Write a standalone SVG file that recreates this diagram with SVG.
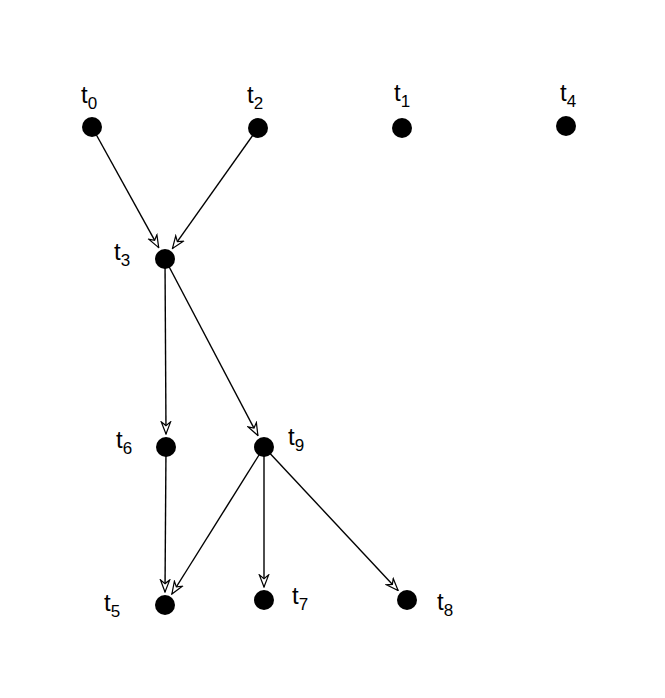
<svg xmlns="http://www.w3.org/2000/svg" width="665" height="698" viewBox="0 0 665 698">
<style>
.n{fill:#000}
.l{font-family:"Liberation Sans",Arial,sans-serif;font-size:24px;fill:#000}
.s{font-size:17px}
.e{stroke:#000;stroke-width:1.4;fill:none;marker-end:url(#a)}
</style>
<defs><marker id="a" markerUnits="userSpaceOnUse" markerWidth="14" markerHeight="12" refX="13" refY="5" orient="auto" viewBox="-1 -1 15 12"><path d="M0,0 L13,5 L0,10 L4,5 z" fill="#fff" stroke="#000" stroke-width="1.3"/></marker></defs>
<rect width="665" height="698" fill="#fff"/>
<g id="connectors">
<line class="e" x1="92" y1="127" x2="158.7" y2="247.6"/>
<line class="e" x1="258" y1="128" x2="172.5" y2="248.4"/>
<line class="e" x1="165" y1="259" x2="166" y2="434"/>
<line class="e" x1="165" y1="259" x2="257.9" y2="435.5"/>
<line class="e" x1="166" y1="447" x2="165" y2="592"/>
<line class="e" x1="264" y1="447" x2="171.9" y2="594"/>
<line class="e" x1="264" y1="447" x2="264" y2="587"/>
<line class="e" x1="264" y1="447" x2="398.1" y2="590.5"/>
</g>
<g id="t0"><circle class="n" cx="92" cy="127" r="10"/><text class="l" x="81" y="103">t<tspan class="s" dy="6">0</tspan></text></g>
<g id="t2"><circle class="n" cx="258" cy="128" r="10"/><text class="l" x="247" y="103">t<tspan class="s" dy="6">2</tspan></text></g>
<g id="t1"><circle class="n" cx="402" cy="128" r="10"/><text class="l" x="394" y="101">t<tspan class="s" dy="6">1</tspan></text></g>
<g id="t4"><circle class="n" cx="566" cy="126" r="10"/><text class="l" x="560" y="101">t<tspan class="s" dy="6">4</tspan></text></g>
<g id="t3"><circle class="n" cx="165" cy="259" r="10"/><text class="l" x="114" y="260">t<tspan class="s" dy="6">3</tspan></text></g>
<g id="t6"><circle class="n" cx="166" cy="447" r="10"/><text class="l" x="116" y="448">t<tspan class="s" dy="6">6</tspan></text></g>
<g id="t9"><circle class="n" cx="264" cy="447" r="10"/><text class="l" x="288" y="445">t<tspan class="s" dy="6">9</tspan></text></g>
<g id="t5"><circle class="n" cx="165" cy="605" r="10"/><text class="l" x="104" y="611">t<tspan class="s" dy="6">5</tspan></text></g>
<g id="t7"><circle class="n" cx="264" cy="600" r="10"/><text class="l" x="292" y="604">t<tspan class="s" dy="6">7</tspan></text></g>
<g id="t8"><circle class="n" cx="407" cy="600" r="10"/><text class="l" x="437" y="610">t<tspan class="s" dy="6">8</tspan></text></g>
</svg>
